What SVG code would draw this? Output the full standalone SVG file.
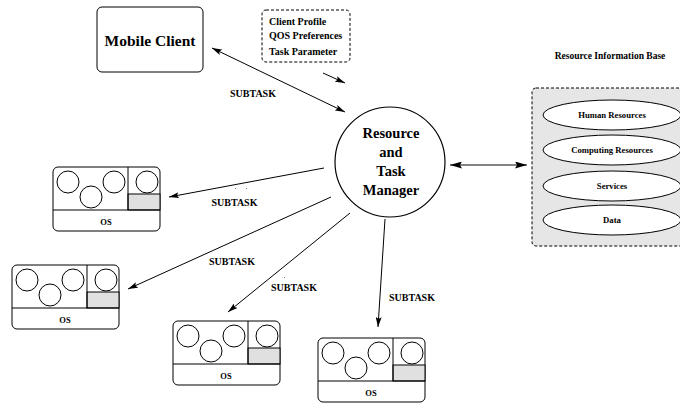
<svg xmlns="http://www.w3.org/2000/svg" xmlns:xlink="http://www.w3.org/1999/xlink" width="680" height="403" viewBox="0 0 680 403">
  <style>
    text { font-family: "Liberation Serif", "Times New Roman", serif; font-weight: bold; fill: #000; }
    .box { fill: #fff; stroke: #000; stroke-width: 1; }
    .dash { fill: #fff; stroke: #000; stroke-width: 1; stroke-dasharray: 3 2; }
    .pool { fill: #e6e6e6; stroke: #000; stroke-width: 1; stroke-dasharray: 3 2; }
    .edge { fill: none; stroke: #000; stroke-width: 1; }
    .thin { fill: none; stroke: #000; stroke-width: 1; }
    .shade { fill: #e0e0e0; stroke: #000; stroke-width: 1; }
    .lbl { font-size: 10px; }
    .mid { text-anchor: middle; }
  </style>
  <defs>
    <marker id="head" viewBox="0 0 10 6" refX="10" refY="3" markerWidth="10" markerHeight="6" markerUnits="userSpaceOnUse" orient="auto-start-reverse">
      <path d="M0,0 L10,3 L0,6 L2,3 z" fill="#000"/>
    </marker>
    <marker id="head-lg" viewBox="0 0 12 7" refX="12" refY="3.5" markerWidth="12" markerHeight="7" markerUnits="userSpaceOnUse" orient="auto-start-reverse">
      <path d="M0,0 L12,3.5 L0,7 L2,3.5 z" fill="#000"/>
    </marker>
    <!-- host machine: processes above the OS layer -->
    <g id="osbox">
      <rect class="box" x="0" y="0" width="107" height="64" rx="5"/>
      <rect class="shade" x="75" y="27" width="32" height="16"/>
      <line class="thin" x1="0" y1="43" x2="107" y2="43"/>
      <line class="thin" x1="75" y1="0" x2="75" y2="43"/>
      <circle class="thin" cx="15" cy="15" r="11"/>
      <circle class="thin" cx="38" cy="30" r="11"/>
      <circle class="thin" cx="61" cy="15" r="11"/>
      <circle class="thin" cx="94" cy="15" r="11"/>
      <text x="53" y="58" font-size="8.5" class="mid">OS</text>
    </g>
  </defs>

  <!-- connectors -->
  <g id="connectors">
    <line class="edge" x1="212" y1="48" x2="345" y2="112" marker-start="url(#head)" marker-end="url(#head)"/>
    <line class="edge" x1="323" y1="73" x2="345" y2="83" marker-end="url(#head)"/>
    <line class="edge" x1="324" y1="168" x2="169" y2="197" marker-end="url(#head)"/>
    <line class="edge" x1="331" y1="197" x2="128" y2="289" marker-end="url(#head)"/>
    <line class="edge" x1="350" y1="213" x2="228" y2="312" marker-end="url(#head)"/>
    <line class="edge" x1="385" y1="219" x2="378" y2="327" marker-end="url(#head)"/>
    <line x1="450" y1="165" x2="527" y2="165" stroke="#5a5a5a" stroke-width="1.5" marker-start="url(#head-lg)" marker-end="url(#head-lg)"/>
    <text class="lbl mid" x="253" y="96.5">SUBTASK</text>
    <text class="lbl mid" x="234.5" y="205.5">SUBTASK</text>
    <text class="lbl mid" x="232" y="264.5">SUBTASK</text>
    <text class="lbl mid" x="294" y="290.5">SUBTASK</text>
    <text class="lbl mid" x="412" y="300.5">SUBTASK</text>
    <rect x="235" y="188" width="1" height="1" fill="#777"/>
    <rect x="246" y="188" width="1" height="1" fill="#777"/>
    <rect x="284" y="277" width="1" height="1" fill="#777"/>
  </g>

  <!-- client -->
  <g id="mobile-client">
    <rect class="box" x="97" y="7" width="106" height="65" rx="5"/>
    <text x="150" y="46" font-size="15.5" class="mid">Mobile Client</text>
  </g>

  <!-- request parameters -->
  <g id="client-info">
    <rect class="dash" x="262" y="10" width="88" height="52" rx="4"/>
    <text class="lbl" x="269" y="24.5">Client Profile</text>
    <text class="lbl" x="269" y="38.5">QOS Preferences</text>
    <text class="lbl" x="269" y="54.5">Task Parameter</text>
  </g>

  <!-- manager -->
  <g id="manager">
    <circle cx="390" cy="162" r="55" fill="#fff" stroke="#000" stroke-width="1.2"/>
    <text x="391" y="138" font-size="14.5" class="mid">Resource</text>
    <text x="391" y="157" font-size="14.5" class="mid">and</text>
    <text x="391" y="176" font-size="14.5" class="mid">Task</text>
    <text x="391" y="195" font-size="14.5" class="mid">Manager</text>
  </g>

  <!-- resource information base -->
  <g id="rib">
    <text x="610" y="58.5" font-size="9.5" class="mid">Resource Information Base</text>
    <rect class="pool" x="532" y="88" width="160" height="158" rx="4"/>
    <g id="rib-human">
      <ellipse class="box" cx="612" cy="115" rx="69" ry="15"/>
      <text x="612" y="118" font-size="8.7" class="mid">Human Resources</text>
    </g>
    <g id="rib-computing">
      <ellipse class="box" cx="612" cy="150" rx="69" ry="15"/>
      <text x="612" y="153" font-size="8.7" class="mid">Computing Resources</text>
    </g>
    <g id="rib-services">
      <ellipse class="box" cx="612" cy="186" rx="69" ry="15"/>
      <text x="612" y="189" font-size="8.7" class="mid">Services</text>
    </g>
    <g id="rib-data">
      <ellipse class="box" cx="612" cy="220" rx="69" ry="15"/>
      <text x="612" y="223" font-size="8.7" class="mid">Data</text>
    </g>
  </g>

  <!-- hosts -->
  <g id="host-1" transform="translate(53,167)"><use xlink:href="#osbox" href="#osbox"/></g>
  <g id="host-2" transform="translate(12,265)"><use xlink:href="#osbox" href="#osbox"/></g>
  <g id="host-3" transform="translate(173,321)"><use xlink:href="#osbox" href="#osbox"/></g>
  <g id="host-4" transform="translate(318,338)"><use xlink:href="#osbox" href="#osbox"/></g>
</svg>
